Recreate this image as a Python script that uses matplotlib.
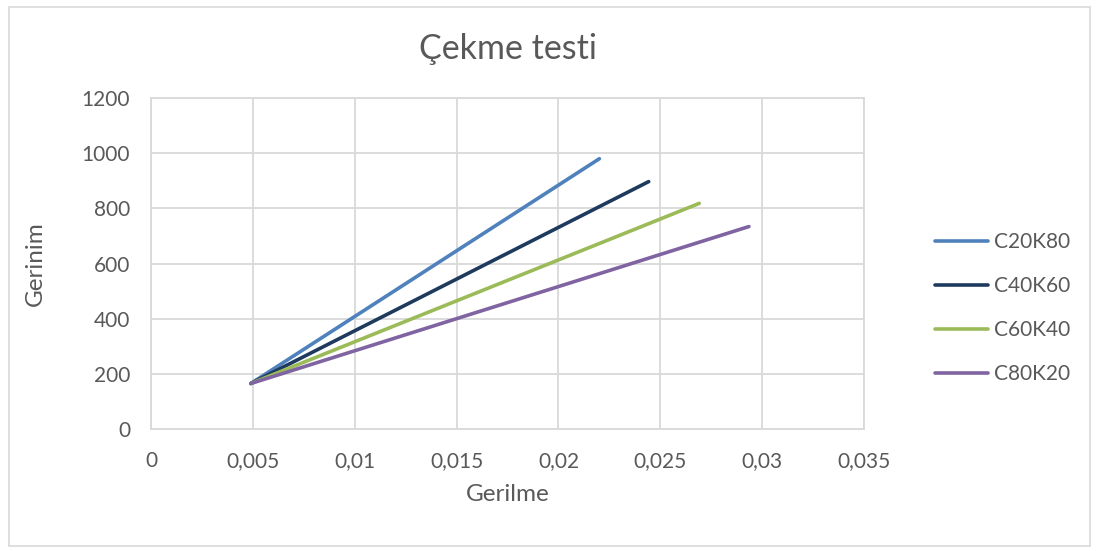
import matplotlib.pyplot as plt
from matplotlib.patches import Rectangle

plt.rcParams['font.family'] = ['Lato', 'DejaVu Sans']

# strain (Gerilme) and stress (Gerinim) at start and end of each series
series = ["C20K80", "C40K60", "C60K40", "C80K20"]
gerilme = [
    [0.0049, 0.02201],
    [0.0049, 0.02443],
    [0.0049, 0.02691],
    [0.0049, 0.02935],
]
gerinim = [
    [165, 980],
    [165, 897],
    [165, 818],
    [165, 734],
]
colors = ["#4f81bd", "#1f3a5f", "#9bbb59", "#8064a2"]

x_ticks = [0, 0.005, 0.01, 0.015, 0.02, 0.025, 0.03, 0.035]
x_labels = ["0", "0,005", "0,01", "0,015", "0,02", "0,025", "0,03", "0,035"]
y_ticks = [0, 200, 400, 600, 800, 1000, 1200]

grey = "#595959"

fig = plt.figure(figsize=(10.99, 5.51), dpi=100)
ax = fig.add_axes([0.1374, 0.2214, 0.6488, 0.6007])

for name, xs, ys, c in zip(series, gerilme, gerinim, colors):
    ax.plot(xs, ys, color=c, lw=2.6, solid_capstyle="round", label=name)

ax.set_xlim(0, 0.035)
ax.set_ylim(0, 1200)
ax.set_xticks(x_ticks)
ax.set_xticklabels(x_labels)
ax.set_yticks(y_ticks)
ax.grid(True, color="#d9d9d9", lw=1.3)
ax.set_axisbelow(True)
for s in ax.spines.values():
    s.set_color("#d9d9d9")
    s.set_linewidth(1.3)
ax.tick_params(length=0, labelsize=15, labelcolor=grey)
ax.tick_params(axis="x", pad=16)
ax.tick_params(axis="y", pad=15)

ax.set_xlabel("Gerilme", fontsize=17.5, color=grey, labelpad=9)
ax.set_ylabel("Gerinim", fontsize=17.5, color=grey, labelpad=26)
ax.set_title("Çekme testi", fontsize=24.5, color=grey, pad=28)

leg = fig.legend(loc="center left", bbox_to_anchor=(0.851, 0.441), frameon=False,
                 fontsize=15, labelspacing=1.15, handlelength=2.55,
                 handletextpad=0.25, borderpad=0, borderaxespad=0)
for t in leg.get_texts():
    t.set_color(grey)

fig.patches.append(Rectangle((0.008, 0.009), 0.984, 0.978, transform=fig.transFigure,
                             fill=False, edgecolor="#d9d9d9", lw=1.2))

fig.savefig("out.png", dpi=100)
